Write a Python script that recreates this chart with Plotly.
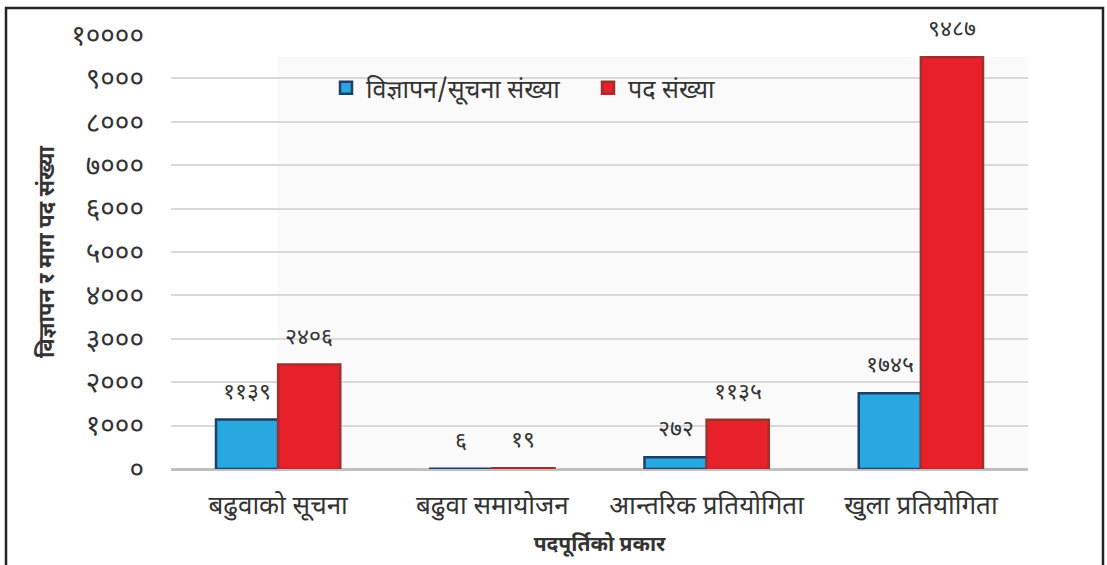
import plotly.graph_objects as go

categories = ["बढुवाको सूचना", "बढुवा समायोजन", "आन्तरिक प्रतियोगिता", "खुला प्रतियोगिता"]
ads = [1139, 6, 272, 1745]
posts = [2406, 19, 1135, 9487]
series_names = ["विज्ञापन/सूचना संख्या", "पद संख्या"]
tick_vals = [0, 1000, 2000, 3000, 4000, 5000, 6000, 7000, 8000, 9000, 10000]

DEV = str.maketrans("0123456789", "०१२३४५६७८९")
def dev(n):
    return str(n).translate(DEV)

FONT = "Noto Sans Devanagari, Noto Sans, DejaVu Sans, sans-serif"

W, H = 1107, 565
L, R, T, B = 171, 1028, 35, 469

fig = go.Figure()
fig.add_trace(go.Bar(
    x=categories, y=ads, name=series_names[0],
    marker=dict(color="#29a8e0", line=dict(color="#1f3f66", width=2.5)),
))
fig.add_trace(go.Bar(
    x=categories, y=posts, name=series_names[1],
    marker=dict(color="#e8202a", line=dict(color="#9e3030", width=2.5)),
))

for vals, shift in ((ads, -31), (posts, 31)):
    for c, v in zip(categories, vals):
        fig.add_annotation(x=c, y=v, xref="x", yref="y", text=dev(v),
                           showarrow=False, xshift=shift, yshift=10,
                           yanchor="bottom", font=dict(size=23, color="#333"))

pw, ph = R - L, B - T
fig.add_shape(type="rect", xref="paper", yref="paper",
              x0=(278 - L) / pw, x1=1.0, y0=0, y1=(B - 57) / ph,
              fillcolor="#fafafa", line=dict(width=0), layer="below")
fig.add_shape(type="rect", xref="paper", yref="paper",
              x0=(6 - L) / pw, x1=(1103 - L) / pw,
              y0=(B - 600) / ph, y1=(B - 8) / ph,
              line=dict(color="#222", width=2.5), fillcolor="rgba(0,0,0,0)")

fig.update_layout(
    width=W, height=H,
    margin=dict(l=L, r=W - R, t=T, b=H - B, autoexpand=False),
    paper_bgcolor="white", plot_bgcolor="rgba(0,0,0,0)",
    barmode="group", bargap=0.42, bargroupgap=0,
    font=dict(family=FONT, color="#333"),
    legend=dict(orientation="h", x=(326 - L) / pw, y=(B - 88) / ph,
                xanchor="left", yanchor="middle", entrywidth=217,
                font=dict(size=25), bgcolor="rgba(0,0,0,0)",
                traceorder="normal"),
    xaxis=dict(
        automargin=False,
        tickfont=dict(size=26), ticks="", showline=False, ticklabelstandoff=18,
        title=dict(text="<b>पदपूर्तिको प्रकार</b>", font=dict(size=21), standoff=12),
    ),
    yaxis=dict(
        automargin=False,
        range=[0, 10000], tickvals=tick_vals, ticktext=[dev(v) for v in tick_vals],
        tickfont=dict(size=28), gridcolor="#d9d9d9", gridwidth=1.5,
        zeroline=True, zerolinecolor="#c0c0c0", zerolinewidth=2.5,
        ticks="", ticklabelstandoff=26,
        title=dict(text="<b>विज्ञापन र माग पद संख्या</b>", font=dict(size=22), standoff=10),
    ),
)

fig.write_html("out.html", config={"displayModeBar": False},
               post_script="document.body.style.margin='0';document.body.style.overflow='hidden';")
